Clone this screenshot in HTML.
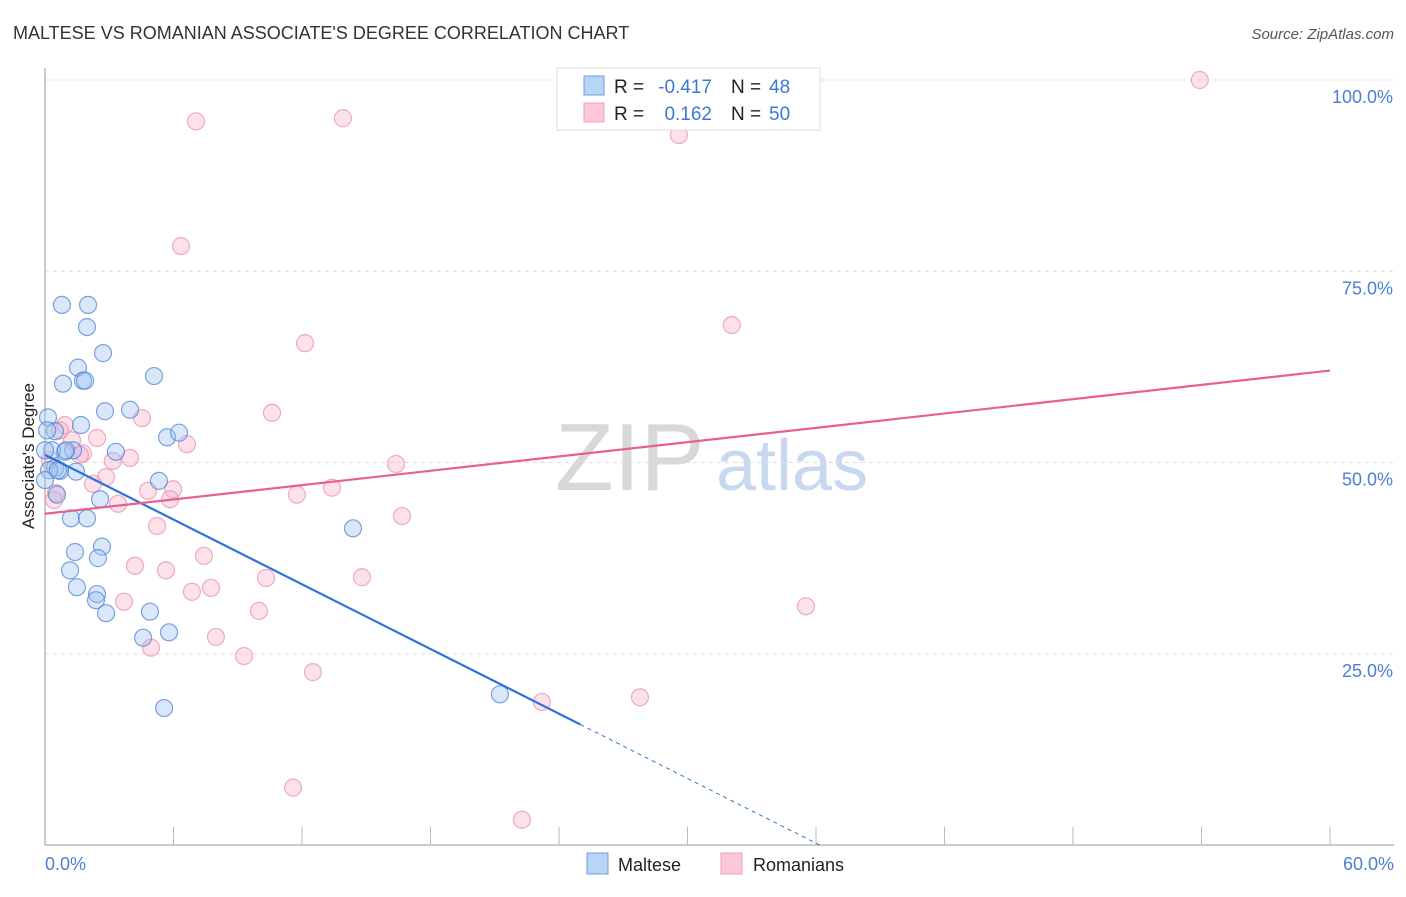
<!DOCTYPE html>
<html><head><meta charset="utf-8"><style>
body{margin:0;background:#fff;font-family:"Liberation Sans",sans-serif;}
svg text{font-family:"Liberation Sans",sans-serif;}
</style></head><body>
<svg id="chart" width="1406" height="892" viewBox="0 0 1406 892" xmlns="http://www.w3.org/2000/svg">
<text x="13" y="39" font-size="18" fill="#333">MALTESE VS ROMANIAN ASSOCIATE'S DEGREE CORRELATION CHART</text>
<text x="1394" y="39" font-size="15" fill="#555" text-anchor="end" font-style="italic">Source: ZipAtlas.com</text>
<g>
<text x="555" y="490" font-size="96" fill="#d8d8d8" font-family="Liberation Serif,serif">ZIP</text>
<text x="716" y="490" font-size="72" fill="#c8d8f0">atlas</text>
</g>
<g id="grid"></g>
<line x1="45" y1="68" x2="45" y2="845" stroke="#bbb" stroke-width="1.5"/>
<line x1="45" y1="845" x2="1394" y2="845" stroke="#bbb" stroke-width="1.5"/>
<g id="xticks"></g>
<text transform="translate(34,456) rotate(-90)" font-size="17" fill="#222" text-anchor="middle">Associate's Degree</text>
<text x="45" y="870" font-size="18" fill="#4a7fd4">0.0%</text>
<text x="1394" y="870" font-size="18" fill="#4a7fd4" text-anchor="end">60.0%</text>
<g id="points"></g>
<g id="trends"></g>
<g>
<rect x="557" y="68" width="263" height="62" fill="#fff" stroke="#ddd"/>
<rect x="584" y="76" width="20" height="19" fill="#b8d4f6" stroke="#6d9ee0"/>
<rect x="584" y="103" width="20" height="19" fill="#fcc8d8" stroke="#eda0b8"/>
<text x="614" y="93" font-size="19" fill="#222">R =</text>
<text x="712" y="93" font-size="19" fill="#3a78d8" text-anchor="end">-0.417</text>
<text x="731" y="93" font-size="19" fill="#222">N =</text>
<text x="769" y="93" font-size="19" fill="#3a78d8">48</text>
<text x="614" y="120" font-size="19" fill="#222">R =</text>
<text x="712" y="120" font-size="19" fill="#3a78d8" text-anchor="end">0.162</text>
<text x="731" y="120" font-size="19" fill="#222">N =</text>
<text x="769" y="120" font-size="19" fill="#3a78d8">50</text>
</g>
<g>
<rect x="587" y="853" width="21" height="21" fill="#b8d4f6" stroke="#6d9ee0"/>
<text x="618" y="871" font-size="18" fill="#222">Maltese</text>
<rect x="721" y="853" width="21" height="21" fill="#fcc8d8" stroke="#eda0b8"/>
<text x="753" y="871" font-size="18" fill="#222">Romanians</text>
</g>
</svg>
<script>
const yTicks=[25,50,75,100];
const yTickLabels=["25.0%","50.0%","75.0%","100.0%"];
const xTicks=[0,6,12,18,24,30,36,42,48,54,60];
const malteseX=[0.79,2.01,1.96,2.71,1.54,0.84,1.77,1.87,5.09,2.80,3.97,1.68,0.14,0.47,5.70,6.26,3.31,1.31,0.93,0.33,5.32,1.45,0.70,0.47,0.19,0.56,2.57,1.21,1.96,14.38,1.40,2.66,2.47,1.17,1.49,2.43,2.38,4.90,2.85,4.58,5.79,5.56,21.24,0.98,0.0,0.0,0.6,0.1];
const malteseY=[70.6,70.6,67.7,64.3,62.4,60.3,60.7,60.7,61.3,56.7,56.9,54.9,55.9,54.1,53.3,53.9,51.4,51.6,51.4,51.6,47.6,48.8,48.9,49.3,49.0,45.8,45.2,42.7,42.7,41.4,38.3,39.0,37.5,35.9,33.7,32.8,32.0,30.5,30.3,27.1,27.8,17.9,19.7,51.6,51.6,47.7,49.0,54.2];
const romX=[53.92,7.05,13.91,29.6,6.35,32.07,12.14,10.6,4.53,0.93,2.43,1.26,6.63,1.77,3.17,3.97,16.39,2.85,2.24,4.81,5.98,5.84,3.41,11.76,13.4,16.67,5.23,7.42,4.2,5.65,10.32,14.8,6.86,7.75,3.69,9.99,35.53,7.98,4.95,9.29,12.51,23.2,27.78,11.58,22.27,0.51,0.42,0.7,1.63,0.23];
const romY=[100,94.6,95.0,92.8,78.3,67.97,65.6,56.5,55.8,54.9,53.2,52.9,52.4,51.2,50.2,50.6,49.8,48.1,47.2,46.3,46.5,45.2,44.6,45.8,46.7,43.0,41.7,37.8,36.5,35.9,34.9,35.0,33.1,33.6,31.8,30.6,31.2,27.2,25.8,24.7,22.6,18.7,19.3,7.5,3.3,46.0,45.1,54.2,51.0,50.3];
const malteseTrend=[51.0,-1.41];
const romTrend=[43.3,0.312];

const NS="http://www.w3.org/2000/svg";
const sx=v=>45+v*(1285/60);
const sy=v=>845-v*7.65;
function mk(tag,attrs,parent){const e=document.createElementNS(NS,tag);for(const k in attrs)e.setAttribute(k,attrs[k]);parent.appendChild(e);return e;}
const grid=document.getElementById('grid');
yTicks.forEach((t,i)=>{
  const l=mk('line',{x1:45,x2:1394,y1:sy(t),y2:sy(t),stroke:'#ddd','stroke-dasharray':'4,4'},grid);
  
  
  const tx=mk('text',{x:1393,y:sy(t)+23,'font-size':18,fill:'#4a7fd4','text-anchor':'end'},grid);
  tx.textContent=yTickLabels[i];
  
  
});
const xt=document.getElementById('xticks');
xTicks.forEach(t=>{
  const l=mk('line',{x1:sx(t),x2:sx(t),y1:827,y2:845,stroke:'#bbb'},xt);
  
  
});
const pts=document.getElementById('points');
romX.forEach((x,i)=>{
  const c=mk('circle',{cx:sx(x),cy:sy(romY[i]),r:8.5,fill:'rgba(248,180,202,0.4)',stroke:'rgba(232,140,168,0.7)','stroke-width':1.2},pts);
  
  
});
malteseX.forEach((x,i)=>{
  const c=mk('circle',{cx:sx(x),cy:sy(malteseY[i]),r:8.5,fill:'rgba(160,195,240,0.4)',stroke:'rgba(80,135,215,0.75)','stroke-width':1.2},pts);
  
  
});
const tr=document.getElementById('trends');
const mEnd=25, mZero=-malteseTrend[0]/malteseTrend[1];
let l1=mk('line',{x1:sx(0),y1:sy(malteseTrend[0]),x2:sx(mEnd),y2:sy(malteseTrend[0]+malteseTrend[1]*mEnd),stroke:'#2f74d8','stroke-width':2.2},tr);


let l2=mk('line',{x1:sx(mEnd),y1:sy(malteseTrend[0]+malteseTrend[1]*mEnd),x2:sx(mZero),y2:sy(0),stroke:'#2f74d8','stroke-width':1,'stroke-dasharray':'4,4'},tr);


let l3=mk('line',{x1:sx(0),y1:sy(romTrend[0]),x2:sx(60),y2:sy(romTrend[0]+romTrend[1]*60),stroke:'#e8618e','stroke-width':2.2},tr);


</script>
</body></html>
